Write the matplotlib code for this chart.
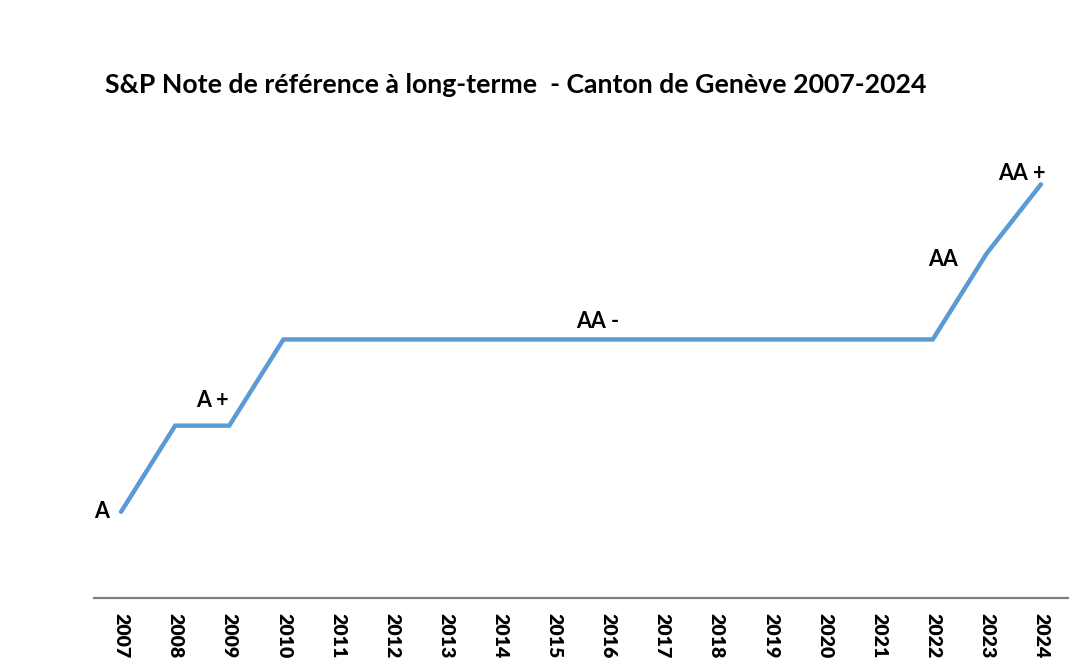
import numpy as np
import matplotlib.pyplot as plt

years = [str(y) for y in range(2007, 2025)]
# 1 = A, 2 = A+, 3 = AA-, 4 = AA, ~4.8 = AA+
rating = [1, 2, 2, 3, 3, 3, 3, 3, 3, 3, 3, 3, 3, 3, 3, 3, 4, 4.8]
note_labels = ["A", "A +", "AA -", "AA", "AA +"]
note_at = [0, 1, 9, 16, 17]          # index of the year each label belongs to
note_offset = [(-19, 0), (37, 25), (-10, 18), (-44, -6), (-19, 11)]   # in pixels

plt.rcParams['font.family'] = ['Lato', 'DejaVu Sans']

fig = plt.figure(figsize=(10.86, 6.70), dpi=100)
ax = fig.add_axes([94/1086, 72/670, 974/1086, 474/670])

x = np.arange(len(years))
ax.plot(x, rating, color='#5B9BD5', lw=3.2, solid_capstyle='round', solid_joinstyle='miter')

for lab, i, (dx, dy) in zip(note_labels, note_at, note_offset):
    ax.annotate(lab, (x[i], rating[i]), xytext=(dx * 0.72, dy * 0.72), textcoords='offset points',
                ha='center', va='center', fontsize=15.5, fontweight='bold', color='black')

ax.set_xlim(-0.5, len(years) - 0.5)
ax.set_ylim(0, 5.5)
ax.set_xticks(x)
ax.set_xticklabels(years, rotation=270, fontsize=14, fontweight='heavy')
ax.tick_params(axis='x', length=0, pad=11)
ax.set_yticks([])
for s in ['top', 'right', 'left']:
    ax.spines[s].set_visible(False)
ax.spines['bottom'].set_color('#808080')
ax.spines['bottom'].set_linewidth(1.6)

fig.text(105/1086, 1 - 85/670, "S&P Note de référence à long-terme  - Canton de Genève 2007-2024",
         fontsize=19.2, fontweight='bold', ha='left', va='center')

fig.savefig('out.png', dpi=100)
